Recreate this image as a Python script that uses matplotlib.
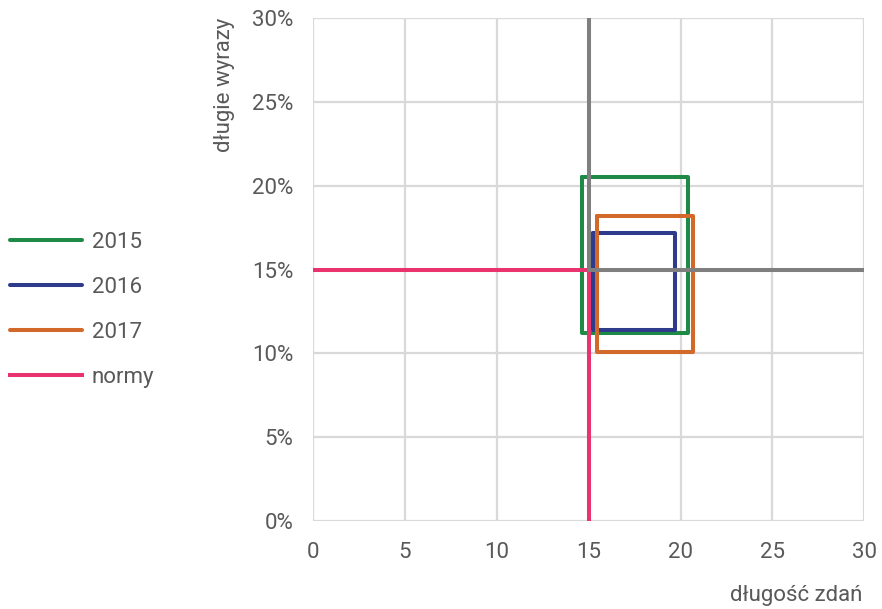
import matplotlib.pyplot as plt
from matplotlib.ticker import PercentFormatter

plt.rcParams['font.family'] = ['Roboto', 'DejaVu Sans']

years = ["2015", "2016", "2017"]
x_min = [14.65, 15.25, 15.45]
x_max = [20.4, 19.7, 20.7]
y_min = [11.2, 11.4, 10.1]
y_max = [20.5, 17.2, 18.2]
colors = ["#1e8a45", "#2e3a8c", "#d2692a"]

norm_x = 15
norm_y = 15
norm_color = "#e8336e"
axis_max_x = 30
axis_max_y = 30

fig = plt.figure(figsize=(8.82, 6.09), dpi=100)
ax = fig.add_axes([0.355, 0.1445, 0.625, 0.8255])

lw = 2.9
handles = []
for yr, x0, x1, y0, y1, c in zip(years, x_min, x_max, y_min, y_max, colors):
    h, = ax.plot([x0, x1, x1, x0, x0], [y1, y1, y0, y0, y1], color=c, lw=lw,
                 solid_joinstyle='round', solid_capstyle='round', label=yr, zorder=3)
    handles.append(h)

# normy
h, = ax.plot([0, norm_x], [norm_y, norm_y], color=norm_color, lw=lw, label="normy", zorder=4)
ax.plot([norm_x, norm_x], [0, norm_y], color=norm_color, lw=lw, zorder=4)
handles.append(h)

# quadrant lines
ax.plot([norm_x, norm_x], [norm_y, axis_max_y], color="#7f7f7f", lw=lw, zorder=5)
ax.plot([norm_x, axis_max_x], [norm_y, norm_y], color="#7f7f7f", lw=lw, zorder=5)

ax.set_xlim(0, axis_max_x)
ax.set_ylim(0, axis_max_y)
ax.set_xticks(range(0, 31, 5))
ax.set_yticks(range(0, 31, 5))
ax.yaxis.set_major_formatter(PercentFormatter(decimals=0))
ax.grid(True, color="#d9d9d9", lw=1.6, zorder=0)
ax.set_axisbelow(True)
for s in ax.spines.values():
    s.set_visible(False)
ax.tick_params(length=0, labelsize=16, labelcolor="#595959")
ax.tick_params(axis='x', pad=15)
ax.tick_params(axis='y', pad=14)

fig.text(0.255, 0.86, "długie wyrazy", rotation=90, ha='center', va='center',
         fontsize=16, color="#595959")
fig.text(0.978, 0.022, "długość zdań", ha='right', va='center',
         fontsize=16, color="#595959")

leg = fig.legend(handles=handles, loc='upper left', bbox_to_anchor=(0.011, 1 - 232 / 609),
                 frameon=False, fontsize=16, handlelength=3.25, handletextpad=0.45,
                 labelspacing=1.08, borderpad=0, borderaxespad=0)
for t in leg.get_texts():
    t.set_color("#595959")

plt.savefig("out.png", dpi=100)
